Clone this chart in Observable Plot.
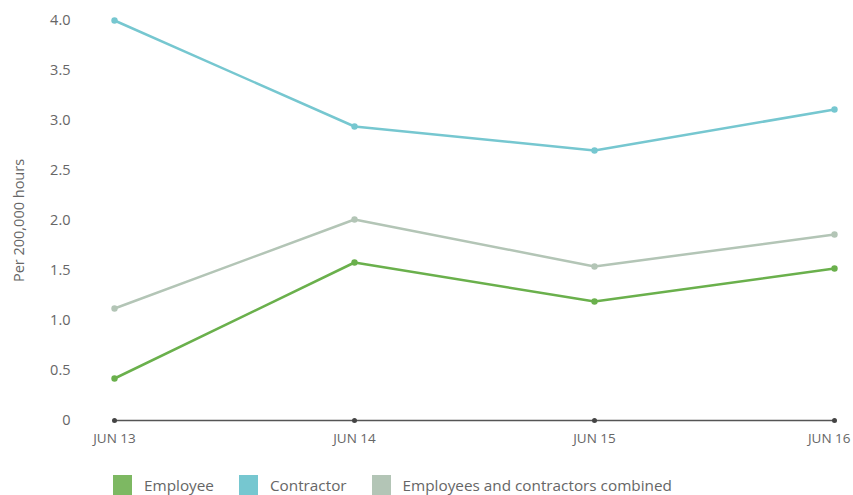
<!DOCTYPE html>
<html>
<head>
<meta charset="utf-8">
<script src="https://cdn.jsdelivr.net/npm/d3@7"></script>
<script src="https://cdn.jsdelivr.net/npm/@observablehq/plot@0.6"></script>
<style>
  body { margin: 0; background: #fff; font-family: "Open Sans", sans-serif; }
  #chart { width: 853px; }
  .legend { display: flex; align-items: center; margin-left: 113px; margin-top: 15px; font-size: 15.3px; color: #666; }
  .legend .item { display: flex; align-items: center; margin-right: 25px; }
  .legend .sw { width: 19px; height: 20px; margin-right: 12px; }
</style>
</head>
<body>
<div id="chart"></div>
<script>
const months = ["JUN 13", "JUN 14", "JUN 15", "JUN 16"];
const employee = [0.42, 1.58, 1.19, 1.52];
const contractor = [4.0, 2.94, 2.70, 3.11];
const combined = [1.12, 2.01, 1.54, 1.86];
const seriesNames = ["Employee", "Contractor", "Employees and contractors combined"];
const seriesColors = ["#6ab04c", "#76c7d0", "#b3c5b6"];
const legendColors = ["#7db862", "#76c7d0", "#b3c5b6"];
const yTicks = [0, 0.5, 1.0, 1.5, 2.0, 2.5, 3.0, 3.5, 4.0];

const seriesValues = [employee, contractor, combined];
const rows = [];
seriesNames.forEach((s, i) => months.forEach((m, j) => rows.push({series: s, month: m, value: seriesValues[i][j]})));
const order = [2, 0, 1]; // draw combined first
const drawRows = order.flatMap(i => rows.filter(r => r.series === seriesNames[i]));

const chart = Plot.plot({
  width: 853,
  height: 460,
  marginLeft: 113,
  marginRight: 19,
  marginTop: 20,
  marginBottom: 40,
  style: {fontFamily: "'Open Sans', sans-serif", fontSize: "14px", color: "#666"},
  x: {type: "point", domain: months, padding: 0},
  y: {domain: [0, 4], ticks: yTicks},
  color: {domain: seriesNames, range: seriesColors},
  marks: [
    Plot.axisX({ticks: months.slice(0, 3), tickSize: 0, tickPadding: 13, label: null, fontSize: 13.5}),
    Plot.axisX({ticks: months.slice(3), tickSize: 0, tickPadding: 13, label: null, fontSize: 13.5, textAnchor: "end", dx: 16}),
    Plot.axisY({ticks: yTicks, tickSize: 0, tickPadding: 43, tickFormat: d => d === 0 ? "0" : d.toFixed(1),
      label: "Per 200,000 hours", labelAnchor: "center", labelArrow: "none", labelOffset: 100, fontSize: 14.5}),
    Plot.ruleY([0], {stroke: "#555", strokeWidth: 1.5}),
    Plot.dot(months, {x: d => d, y: () => 0, r: 2.5, fill: "#444"}),
    Plot.line(drawRows, {x: "month", y: "value", z: "series", stroke: "series", strokeWidth: 2.5}),
    Plot.dot(drawRows, {x: "month", y: "value", fill: "series", r: 3.2})
  ]
});
document.getElementById("chart").appendChild(chart);

const legend = document.createElement("div");
legend.className = "legend";
seriesNames.forEach((s, i) => {
  const item = document.createElement("div");
  item.className = "item";
  const sw = document.createElement("div");
  sw.className = "sw";
  sw.style.background = legendColors[i];
  const t = document.createElement("span");
  t.textContent = s;
  item.appendChild(sw); item.appendChild(t);
  legend.appendChild(item);
});
document.getElementById("chart").appendChild(legend);
</script>
</body>
</html>
